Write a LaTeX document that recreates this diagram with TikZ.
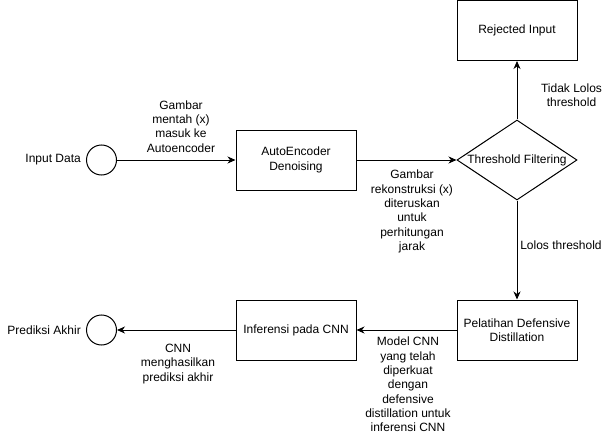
\documentclass[tikz,border=0pt]{standalone}
\usepackage{fontspec}
\setmainfont{Liberation Sans}
\usetikzlibrary{arrows.meta,shapes.geometric}
\begin{document}
\begin{tikzpicture}[x=1pt,y=-1pt,
  font=\fontsize{12}{14.3}\selectfont,
  box/.style={draw, line width=1pt, minimum width=120pt, minimum height=60pt, align=center, inner sep=0pt},
  term/.style={draw, circle, line width=1pt, minimum size=30pt, inner sep=0pt},
  dec/.style={draw, diamond, line width=1pt, minimum width=120pt, minimum height=80pt, aspect=1.5, inner sep=0pt},
  lbl/.style={align=center, inner sep=0pt},
  arr/.style={line width=1pt, -{Stealth[length=8pt,width=7pt,inset=2.5pt]}}]
\useasboundingbox (0,0) rectangle (616,436);
% nodes
\node[term] (in) at (101.5,160) {};
\node[lbl, anchor=east] (inlbl) at (81,160) {Input Data};
\node[box] (ae) at (296,160) {AutoEncoder\\Denoising};
\node[dec] (tf) at (517,160) {Threshold Filtering};
\node[box] (rej) at (517,30.5) {Rejected Input};
\node[box] (pel) at (517,330) {Pelatihan Defensive\\Distillation};
\node[box] (inf) at (296,330) {Inferensi pada CNN};
\node[term] (out) at (101.5,330) {};
\node[lbl, anchor=east] (outlbl) at (81,330) {Prediksi Akhir};
% connectors
\draw[arr] (in) -- (ae);
\draw[arr] (ae) -- (tf);
\draw[arr] (tf) -- (rej);
\draw[arr] (tf) -- (pel);
\draw[arr] (pel) -- (inf);
\draw[arr] (inf) -- (out);
% connector labels
\node[lbl] (l1) at (181,126.5) {Gambar\\mentah (x)\\masuk ke\\Autoencoder};
\node[lbl] (l2) at (412,211.5) {Gambar\\rekonstruksi (x)\\diteruskan\\untuk\\perhitungan\\jarak};
\node[lbl] (l3) at (571.5,95) {Tidak Lolos\\threshold};
\node[lbl] (l4) at (561,245) {Lolos threshold};
\node[lbl] (l5) at (408,384.5) {Model CNN\\yang telah\\diperkuat\\dengan\\defensive\\distillation untuk\\inferensi CNN};
\node[lbl] (l6) at (178,364) {CNN\\menghasilkan\\prediksi akhir};
\end{tikzpicture}
\end{document}
